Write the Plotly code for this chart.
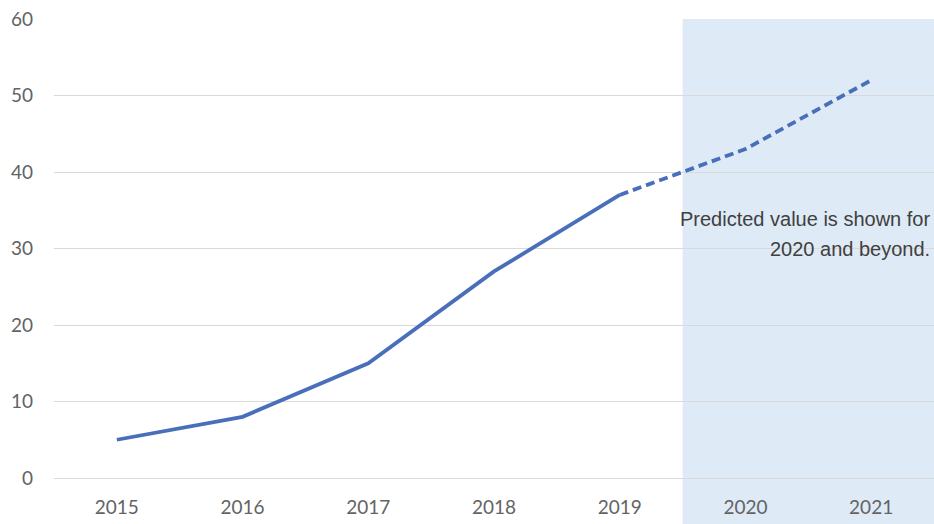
import plotly.graph_objects as go

# Yearly values: actuals through 2019, forecast from 2019 onward
years = ["2015", "2016", "2017", "2018", "2019", "2020", "2021"]
actual_years = ["2015", "2016", "2017", "2018", "2019"]
actual_values = [5, 8, 15, 27, 37]
forecast_years = ["2019", "2020", "2021"]
forecast_values = [37, 43, 52]

y_ticks = [0, 10, 20, 30, 40, 50, 60]
note_lines = ["Predicted value is shown for", "2020 and beyond."]
note_y = [33.8, 30.0]

line_color = "#4a6fba"

fig = go.Figure()

fig.add_trace(go.Scatter(
    x=actual_years, y=actual_values, mode="lines",
    line=dict(color=line_color, width=3.8),
    showlegend=False, hoverinfo="x+y",
))
fig.add_trace(go.Scatter(
    x=forecast_years, y=forecast_values, mode="lines",
    line=dict(color=line_color, width=3.8, dash="9px,5px"),
    showlegend=False, hoverinfo="x+y",
))

# Shaded forecast period
fig.add_shape(
    type="rect", xref="x", yref="paper",
    x0=4.5, x1=6.5, y0=-0.2, y1=1.0,
    fillcolor="#deeaf6", line=dict(width=0), layer="below",
)

for text, yv in zip(note_lines, note_y):
    fig.add_annotation(
        text=text, xref="paper", x=0.998, xanchor="right",
        yref="y", y=yv, yanchor="middle", showarrow=False,
        font=dict(family="Liberation Sans, Arial, sans-serif", size=20, color="#404040"),
    )

tick_font = dict(family="Lato, sans-serif", size=19, color="#636363")

fig.update_layout(
    width=934, height=524,
    margin=dict(l=54, r=0, t=19, b=46),
    paper_bgcolor="white", plot_bgcolor="white",
    font=tick_font,
)
fig.update_xaxes(
    type="category", categoryorder="array", categoryarray=years,
    range=[-0.5, 6.5], showgrid=False, showline=False, zeroline=False,
    ticks="", ticklabelstandoff=16, tickfont=tick_font,
)
fig.update_yaxes(
    range=[0, 60], tickvals=y_ticks, showgrid=True, gridcolor="#d9d9d9",
    gridwidth=1, zeroline=True, zerolinecolor="#d9d9d9", zerolinewidth=1,
    showline=False, ticks="", ticklabelstandoff=20, tickfont=tick_font,
)

fig.write_html("out.html")
